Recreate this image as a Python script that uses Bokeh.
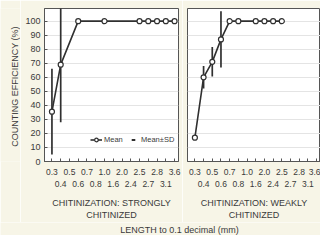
import math
from bokeh.plotting import figure
from bokeh.models import Range1d, FixedTicker, Legend, LegendItem, Label
from bokeh.core.properties import value
from bokeh.layouts import column, row
from bokeh.embed import file_html
from bokeh.resources import INLINE

# ---- data ----
categories = ["0.3", "0.4", "0.5", "0.6", "0.7", "0.8", "1.0", "1.6",
              "2.0", "2.4", "2.5", "2.7", "2.8", "3.1", "3.6"]
y_ticks = [0, 10, 20, 30, 40, 50, 60, 70, 80, 90, 100]

strong_len = ["0.3", "0.4", "0.6", "1.0", "2.5", "2.7", "2.8", "3.1", "3.6"]
strong_mean = [35.5, 69, 100, 100, 100, 100, 100, 100, 100]
strong_sd = [30.5, 41, 0, 0, 0, 0, 0, 0, 0]

weak_len = ["0.3", "0.4", "0.5", "0.6", "0.7", "0.8", "1.6", "2.0", "2.4", "2.5"]
weak_mean = [17, 60, 71, 87, 100, 100, 100, 100, 100, 100]
weak_sd = [0, 8, 10.5, 20, 0, 0, 0, 0, 0, 0]

panel_titles = ["CHITINIZATION: STRONGLY\nCHITINIZED", "CHITINIZATION: WEAKLY\nCHITINIZED"]
y_title = "COUNTING EFFICIENCY (%)"
x_title = "LENGTH to 0.1 decimal (mm)"

BG = "#f7f5e7"
TXT = "#3a3a3a"
LINE = "#303030"
FONT = "Liberation Sans"
H = 222


def make_panel(width, min_left, min_right, xlabel, lens, means, sds, show_y, with_legend):
    p = figure(width=width, height=H, output_backend="svg", toolbar_location=None,
               x_range=Range1d(-0.85, 14.45), y_range=Range1d(0, 109),
               min_border_left=min_left, min_border_right=min_right,
               min_border_top=8, min_border_bottom=54,
               background_fill_color="white", border_fill_color=BG,
               outline_line_color="#555555", outline_line_width=1)
    idx = [categories.index(c) for c in lens]

    xa = p.xaxis[0]
    xa.ticker = FixedTicker(ticks=list(range(len(categories))), minor_ticks=[])
    xa.major_label_overrides = {i: (c if i % 2 == 0 else "\n" + c) for i, c in enumerate(categories)}
    xa.major_tick_in = 3
    xa.major_tick_out = 0
    xa.major_label_standoff = 5
    xa.major_label_text_font_size = "8.5px"
    xa.major_label_text_font = FONT
    xa.major_label_text_color = TXT
    xa.axis_line_color = "#555555"
    xa.major_tick_line_color = "#555555"
    xa.axis_label = xlabel
    xa.axis_label_text_font_size = "9px"
    xa.axis_label_text_font = FONT
    xa.axis_label_text_font_style = "normal"
    xa.axis_label_text_color = TXT
    xa.axis_label_standoff = 6

    ya = p.yaxis[0]
    if show_y:
        ya.ticker = FixedTicker(ticks=y_ticks, minor_ticks=[])
        ya.major_tick_in = 3
        ya.major_tick_out = 0
        ya.major_label_standoff = 4
        ya.major_label_text_font_size = "9px"
        ya.major_label_text_font = FONT
        ya.major_label_text_color = TXT
        ya.axis_line_color = "#555555"
        ya.major_tick_line_color = "#555555"
    else:
        ya.visible = False

    p.xgrid.visible = False
    p.ygrid.ticker = FixedTicker(ticks=y_ticks, minor_ticks=[])
    p.ygrid.grid_line_color = "#e4e4e4"
    p.ygrid.grid_line_width = 1

    # error bars (mean +/- SD)
    ex = [i for i, s in zip(idx, sds) if s > 0]
    y0 = [m - s for m, s in zip(means, sds) if s > 0]
    y1 = [m + s for m, s in zip(means, sds) if s > 0]
    p.segment(x0=ex, y0=y0, x1=ex, y1=y1, line_color=LINE, line_width=1.7)

    ln = p.line(idx, means, line_color=LINE, line_width=1.6)
    pts = p.scatter(idx, means, marker="circle", size=5, fill_color="white",
                    line_color=LINE, line_width=1.2)

    if with_legend:
        key = p.scatter(x=[float("nan")], y=[float("nan")], marker="dash",
                        size=10, line_color=LINE, line_width=2)
        legend = Legend(items=[LegendItem(label="Mean", renderers=[ln, pts]),
                               LegendItem(label="Mean\u00b1SD", renderers=[key])],
                        location=(46, 17), orientation="horizontal",
                        label_text_font_size="7.5px", label_text_font=FONT,
                        label_text_color=TXT, border_line_color=None,
                        background_fill_alpha=0, glyph_width=12, glyph_height=9,
                        label_standoff=2, spacing=3, padding=0, margin=0,
                        label_height=9)
        p.add_layout(legend)
    return p


# narrow strip holding the vertical y-axis title
py = figure(width=20, height=H, output_backend="svg", toolbar_location=None,
            x_range=Range1d(0, 1), y_range=Range1d(0, 1),
            min_border=0, outline_line_color=None,
            background_fill_color=BG, border_fill_color=BG)
py.axis.visible = False
py.grid.visible = False
py.text(x=[0.7], y=[0.49], text=[y_title], angle=math.pi / 2,
        text_align="center", text_baseline="middle",
        text_font_size="9px", text_font=value(FONT), text_color=TXT)

p1 = make_panel(162, 24, 4, panel_titles[0], strong_len, strong_mean, strong_sd, True, True)
p2 = make_panel(138, 5, 0, panel_titles[1], weak_len, weak_mean, weak_sd, False, False)

p3 = figure(width=320, height=13, output_backend="svg", toolbar_location=None,
            x_range=Range1d(0, 1), y_range=Range1d(0, 1),
            min_border=0, outline_line_color=None,
            background_fill_color=BG, border_fill_color=BG)
p3.axis.visible = False
p3.grid.visible = False
p3.add_layout(Label(x=179, y=6, x_units="screen", y_units="screen", text=x_title,
                    text_align="center", text_baseline="middle",
                    text_font_size="9px", text_font=FONT, text_color=TXT))

layout = column(row(py, p1, p2), p3)

with open("out.html", "w") as f:
    f.write(file_html(layout, INLINE))
